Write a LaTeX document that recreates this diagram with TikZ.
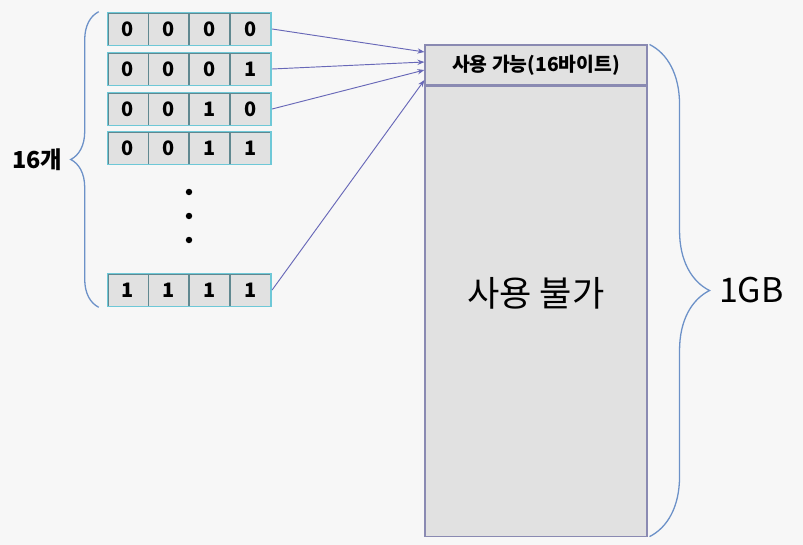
\documentclass[tikz,border=0pt]{standalone}
\usepackage{fontspec}
\setmainfont{Noto Sans CJK KR}
\usepackage{tikz}
\usetikzlibrary{
    arrows.meta,
    positioning,
    fit,
    calc,
    decorations.pathreplacing
}
\definecolor{Cbg}{RGB}{247, 247, 247}
\definecolor{Ccell}{RGB}{225, 225, 225}
\definecolor{Cedge}{RGB}{96, 136, 144}
\definecolor{Cglow}{RGB}{110, 200, 215}
\definecolor{Cmem}{RGB}{138, 138, 178}
\definecolor{Carr}{RGB}{104, 104, 184}
\definecolor{Cbrace}{RGB}{108, 145, 200}
\tikzset{
    bitcell/.style={
        rectangle, draw=Cedge, line width=0.8pt, fill=Ccell,
        minimum width=1.2cm, minimum height=0.96cm, inner sep=0pt,
        font=\fontsize{17}{17}\selectfont\bfseries
    },
    bitrow/.style={
        rectangle, draw=Cglow, line width=1.4pt, inner sep=0pt
    },
    memblk/.style={
        rectangle, draw=Cmem, line width=0.9pt, fill=Ccell,
        minimum width=6.66cm, inner sep=0pt
    },
    bitdot/.style={circle, fill=black, inner sep=0pt, minimum size=5.5pt},
    marr/.style={-{Stealth[length=6pt, width=4.5pt]}, line width=0.8pt, Carr},
    mbrace/.style={decorate, draw=Cbrace, line width=1.1pt},
}

\begin{document}
\begin{tikzpicture}[x=0.03cm, y=-0.03cm]

    % ── background / page size ─────────────────────
    \fill [Cbg] (0,0) rectangle (803,545);

    % ── 16 entries (first four and the last one) ───
    \node [bitcell] (a1) at (128,29) {0};
    \node [bitcell, right=0pt of a1] (a2) {0};
    \node [bitcell, right=0pt of a2] (a3) {0};
    \node [bitcell, right=0pt of a3] (a4) {0};
    \node [bitrow, fit=(a1)(a4)] (row1) {};

    \node [bitcell] (b1) at (128,69) {0};
    \node [bitcell, right=0pt of b1] (b2) {0};
    \node [bitcell, right=0pt of b2] (b3) {0};
    \node [bitcell, right=0pt of b3] (b4) {1};
    \node [bitrow, fit=(b1)(b4)] (row2) {};

    \node [bitcell] (c1) at (128,109) {0};
    \node [bitcell, right=0pt of c1] (c2) {0};
    \node [bitcell, right=0pt of c2] (c3) {1};
    \node [bitcell, right=0pt of c3] (c4) {0};
    \node [bitrow, fit=(c1)(c4)] (row3) {};

    \node [bitcell] (d1) at (128,148) {0};
    \node [bitcell, right=0pt of d1] (d2) {0};
    \node [bitcell, right=0pt of d2] (d3) {1};
    \node [bitcell, right=0pt of d3] (d4) {1};
    \node [bitrow, fit=(d1)(d4)] (row4) {};

    \node [bitdot] (dot1) at (189,192) {};
    \node [bitdot] (dot2) at (189,216) {};
    \node [bitdot] (dot3) at (189,240) {};

    \node [bitcell] (e1) at (128,290) {1};
    \node [bitcell, right=0pt of e1] (e2) {1};
    \node [bitcell, right=0pt of e2] (e3) {1};
    \node [bitcell, right=0pt of e3] (e4) {1};
    \node [bitrow, fit=(e1)(e4)] (row5) {};

    % ── 1GB memory block ───────────────────────────
    \node [memblk, minimum height=1.2cm, font=\fontsize{16.5}{16.5}\selectfont\bfseries]
        (avail) at (536,65) {사용 가능(16바이트)};
    \node [memblk, minimum height=13.5cm, below=0pt of avail] (unavail) {};
    \node [font=\fontsize{30}{30}\selectfont]
        (unavailtxt) at ($(unavail.center)+(0,-18)$) {사용 불가};

    % ── braces ─────────────────────────────────────
    \draw [mbrace, decoration={brace, amplitude=0.84cm}]
        ($(row5.south west)+(-8,0)$) -- node[left=0.95cm, font=\fontsize{20}{20}\selectfont\bfseries] (cnt) {16개}
        ($(row1.north west)+(-8,0)$);
    \draw [mbrace, decoration={brace, amplitude=1.8cm}]
        ($(avail.north east)+(2,0)$) -- node[right=1.95cm, font=\fontsize{29}{29}\selectfont] (size) {1GB}
        ($(unavail.south east)+(2,0)$);

    % ── arrows ─────────────────────────────────────
    \draw [marr] (row1.east) -- ($(avail.west)+(0,-13)$);
    \draw [marr] (row2.east) -- ($(avail.west)+(0,-3)$);
    \draw [marr] (row3.east) -- ($(avail.west)+(0,5)$);
    \draw [marr] (row5.east) -- ($(avail.west)+(0,15)$);

\end{tikzpicture}
\end{document}
